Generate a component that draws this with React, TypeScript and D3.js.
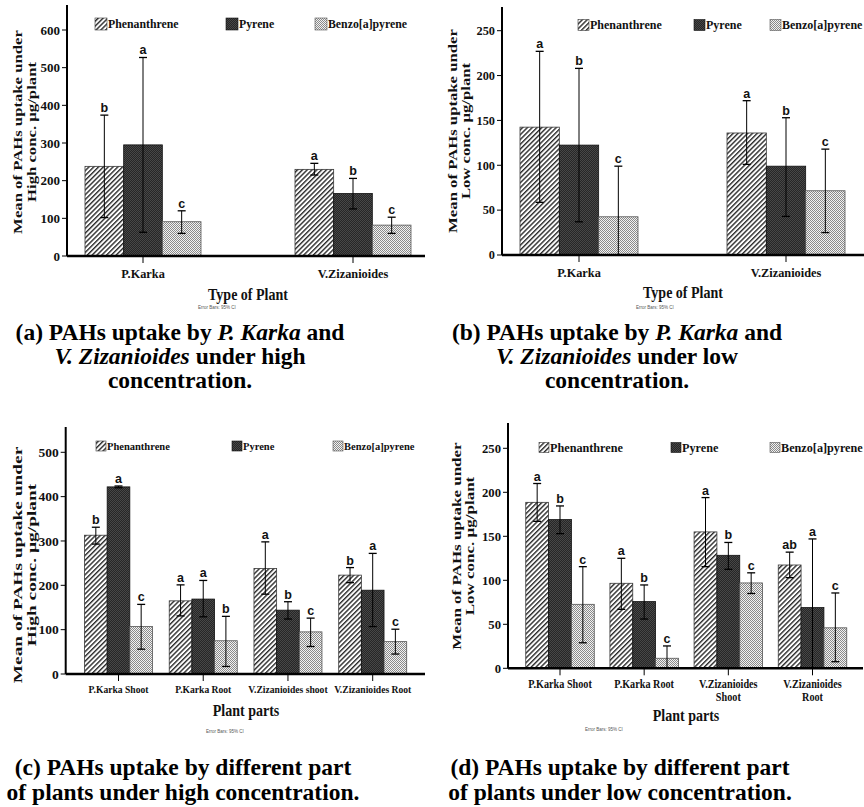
import React from "react";
import * as d3 from "d3";

const SERIES = ["Phenanthrene", "Pyrene", "Benzo[a]pyrene"];

// ---------- Panel (a): high concentration, by plant ----------
const catsA = ["P.Karka", "V.Zizanioides"];
const ticksA = [0, 100, 200, 300, 400, 500, 600];
const phenA = [238, 230];
const phenA_lo = [102, 215];
const phenA_hi = [374, 246];
const pyrA = [295, 166];
const pyrA_lo = [63, 125];
const pyrA_hi = [527, 206];
const bapA = [91, 82];
const bapA_lo = [60, 60];
const bapA_hi = [120, 103];
const lettersA = [["b", "a", "c"], ["a", "b", "c"]];

// ---------- Panel (b): low concentration, by plant ----------
const catsB = ["P.Karka", "V.Zizanioides"];
const ticksB = [0, 50, 100, 150, 200, 250];
const phenB = [142.5, 136];
const phenB_lo = [58.7, 101];
const phenB_hi = [227, 172];
const pyrB = [122.5, 99];
const pyrB_lo = [37, 43];
const pyrB_hi = [208, 153];
const bapB = [42.6, 71.6];
const bapB_lo = [-14, 25];
const bapB_hi = [99, 118];
const lettersB = [["a", "b", "c"], ["a", "b", "c"]];

// ---------- Panel (c): high concentration, by plant part ----------
const catsC = ["P.Karka Shoot", "P.Karka Root", "V.Zizanioides shoot", "V.Zizanioides Root"];
const ticksC = [0, 100, 200, 300, 400, 500];
const phenC = [313, 165, 238, 223];
const phenC_lo = [293, 131, 180, 206];
const phenC_hi = [331, 201, 298, 240];
const pyrC = [422, 169, 144, 189];
const pyrC_lo = [420, 129, 124, 107];
const pyrC_hi = [424, 211, 163, 272];
const bapC = [107, 75, 95, 73];
const bapC_lo = [56, 17, 62, 45];
const bapC_hi = [157, 130, 126, 101];
const lettersC = [["b", "a", "c"], ["a", "a", "b"], ["a", "b", "c"], ["b", "a", "c"]];

// ---------- Panel (d): low concentration, by plant part ----------
const catsD = ["P.Karka Shoot", "P.Karka Root", "V.Zizanioides\nShoot", "V.Zizanioides\nRoot"];
const ticksD = [0, 50, 100, 150, 200, 250];
const phenD = [188.6, 96.6, 155, 117.4];
const phenD_lo = [167, 67, 115.5, 103];
const phenD_hi = [210, 125, 194, 132];
const pyrD = [169, 75.8, 128.4, 69];
const pyrD_lo = [153, 56, 112.5, -9];
const pyrD_hi = [184.5, 94.7, 143, 147];
const bapD = [72.7, 11.4, 97, 46];
const bapD_lo = [29, -3, 85, 7.5];
const bapD_hi = [115.5, 25.4, 108.5, 85.6];
const lettersD = [["a", "b", "c"], ["a", "b", "c"], ["a", "b", "c"], ["ab", "a", "c"]];

const SERIF = "'Liberation Serif', 'Times New Roman', serif";
const SANS = "'Liberation Sans', Arial, sans-serif";

type Layout = {
  axisX: number; baseY: number; topTickY: number; axisTop: number; xEnd: number;
  c0: number; c1: number; groupW: number;
  legX: number[]; legY: number; legSq: number; legFont: number;
  tickFont: number;
  yLab: { x1: number; x2: number; cy: number; size: number; sx: number };
  xLabY: number; xLabLH: number; xLabFont: number; xLabSx: number;
  xTitle: { x: number; y: number; size: number; sx: number };
  eb: { x: number; y: number };
  letterFont: number;
};

const LA: Layout = {
  axisX: 67, baseY: 256, topTickY: 30, axisTop: 5, xEnd: 425,
  c0: 143, c1: 353, groupW: 116,
  legX: [95, 226, 315], legY: 24, legSq: 12, legFont: 11.8, tickFont: 13,
  yLab: { x1: 18, x2: 32, cy: 132, size: 16.7, sx: 0.76 },
  xLabY: 278, xLabLH: 12, xLabFont: 12.3, xLabSx: 1,
  xTitle: { x: 248, y: 300, size: 16.5, sx: 0.85 },
  eb: { x: 217, y: 309 }, letterFont: 12.5,
};
const LB: Layout = {
  axisX: 502, baseY: 255, topTickY: 30.7, axisTop: 7, xEnd: 864,
  c0: 579, c1: 786, groupW: 118,
  legX: [578, 694, 770], legY: 25, legSq: 11, legFont: 12, tickFont: 12.3,
  yLab: { x1: 452.7, x2: 465.3, cy: 131, size: 16.7, sx: 0.74 },
  xLabY: 277, xLabLH: 12, xLabFont: 12.3, xLabSx: 1,
  xTitle: { x: 683, y: 298, size: 16.5, sx: 0.85 },
  eb: { x: 655, y: 309 }, letterFont: 12.5,
};
const LC: Layout = {
  axisX: 65.7, baseY: 674, topTickY: 452.3, axisTop: 427, xEnd: 425,
  c0: 118.5, c1: 372.7, groupW: 68,
  legX: [96, 232, 333], legY: 446, legSq: 10, legFont: 10.5, tickFont: 13.5,
  yLab: { x1: 17.5, x2: 31.5, cy: 565, size: 19.4, sx: 0.66 },
  xLabY: 693, xLabLH: 12, xLabFont: 11.3, xLabSx: 0.85,
  xTitle: { x: 246, y: 716, size: 16.5, sx: 0.85 },
  eb: { x: 225, y: 733 }, letterFont: 12.5,
};
const LD: Layout = {
  axisX: 508, baseY: 668.3, topTickY: 448.3, axisTop: 423, xEnd: 863,
  c0: 560, c1: 812.5, groupW: 68.5,
  legX: [539, 671, 770], legY: 447.5, legSq: 10, legFont: 12.2, tickFont: 12.7,
  yLab: { x1: 457, x2: 470, cy: 546, size: 17, sx: 0.74 },
  xLabY: 688, xLabLH: 12.5, xLabFont: 12, xLabSx: 0.85,
  xTitle: { x: 686, y: 721, size: 16.5, sx: 0.85 },
  eb: { x: 604, y: 731 }, letterFont: 12.5,
};

const FILLS = ["url(#pat-phen)", "url(#pat-pyr)", "url(#pat-bap)"];
const STROKES = ["#3a3a3a", "#111", "#555"];

type PanelProps = {
  L: Layout; cats: string[]; ticks: number[];
  vals: number[][]; lows: number[][]; highs: number[][];
  letters: string[][]; yLabel: string[]; xTitle: string;
};

function Panel({ L, cats, ticks, vals, lows, highs, letters, yLabel, xTitle }: PanelProps) {
  const y = d3.scaleLinear().domain([0, ticks[ticks.length - 1]]).range([L.baseY, L.topTickY]);
  const x = d3.scalePoint<string>().domain(cats).range([L.c0, L.c1]);
  const sub = d3.scaleBand<string>().domain(SERIES).range([-L.groupW / 2, L.groupW / 2]);
  const bw = sub.bandwidth();
  const cap = 4;

  return (
    <g>
      {/* bars */}
      {cats.map((c, i) =>
        SERIES.map((s, k) => {
          const v = vals[k][i];
          const bx = (x(c) as number) + (sub(s) as number);
          return (
            <rect key={`b-${i}-${k}`} x={bx} y={y(v)} width={bw} height={L.baseY - y(v)}
              fill={FILLS[k]} stroke={STROKES[k]} strokeWidth={0.8} />
          );
        })
      )}
      {/* error bars + letters */}
      {cats.map((c, i) =>
        SERIES.map((s, k) => {
          const cx = (x(c) as number) + (sub(s) as number) + bw / 2;
          const lo = lows[k][i];
          const hi = highs[k][i];
          const yH = y(hi);
          const yL = y(Math.max(lo, 0));
          return (
            <g key={`e-${i}-${k}`} stroke="#000" strokeWidth={1}>
              <line x1={cx} x2={cx} y1={yH} y2={yL} />
              <line x1={cx - cap} x2={cx + cap} y1={yH} y2={yH} strokeWidth={1.3} />
              {lo >= 0 && <line x1={cx - cap} x2={cx + cap} y1={yL} y2={yL} strokeWidth={1.3} />}
              <text x={cx} y={yH - 3} textAnchor="middle" stroke="none" fill="#111"
                fontFamily={SANS} fontWeight="bold" fontSize={L.letterFont}>{letters[i][k]}</text>
            </g>
          );
        })
      )}
      {/* y axis */}
      <line x1={L.axisX} x2={L.axisX} y1={L.axisTop} y2={L.baseY} stroke="#000" strokeWidth={2} />
      {ticks.map((t) => (
        <g key={`t-${t}`}>
          <line x1={L.axisX - 5} x2={L.axisX} y1={y(t)} y2={y(t)} stroke="#000" strokeWidth={1} />
          <text x={L.axisX - 7} y={y(t)} dy="0.35em" textAnchor="end" fontFamily={SERIF}
            fontWeight="bold" fontSize={L.tickFont} fill="#111">{t}</text>
        </g>
      ))}
      {/* x axis */}
      <line x1={L.axisX} x2={L.xEnd} y1={L.baseY} y2={L.baseY} stroke="#000" strokeWidth={2.5} />
      {cats.map((c) => (
        <g key={`x-${c}`}>
          <line x1={x(c)} x2={x(c)} y1={L.baseY} y2={L.baseY + 7} stroke="#000" strokeWidth={1} />
          {c.split("\n").map((ln, j) => (
            <text key={j} transform={`translate(${x(c)},${L.xLabY + j * L.xLabLH}) scale(${L.xLabSx},1)`}
              textAnchor="middle" fontFamily={SERIF} fontWeight="bold" fontSize={L.xLabFont} fill="#111">{ln}</text>
          ))}
        </g>
      ))}
      {/* legend */}
      {SERIES.map((s, k) => (
        <g key={`l-${s}`}>
          <rect x={L.legX[k]} y={L.legY - L.legSq / 2} width={L.legSq} height={L.legSq}
            fill={FILLS[k]} stroke={STROKES[k]} strokeWidth={0.6} />
          <text x={L.legX[k] + L.legSq + 1} y={L.legY + L.legFont * 0.34} fontFamily={SERIF}
            fontWeight="bold" fontSize={L.legFont} fill="#111">{s}</text>
        </g>
      ))}
      {/* y label */}
      {yLabel.map((ln, j) => (
        <text key={`yl-${j}`}
          transform={`translate(${j === 0 ? L.yLab.x1 : L.yLab.x2},${L.yLab.cy}) scale(${L.yLab.sx},1) rotate(-90)`}
          dy="0.35em" textAnchor="middle" fontFamily={SERIF} fontWeight="bold"
          fontSize={L.yLab.size} fill="#111">{ln}</text>
      ))}
      {/* x title */}
      <text transform={`translate(${L.xTitle.x},${L.xTitle.y}) scale(${L.xTitle.sx},1)`}
        textAnchor="middle" fontFamily={SERIF} fontWeight="bold" fontSize={L.xTitle.size} fill="#111">{xTitle}</text>
      <text x={L.eb.x} y={L.eb.y} textAnchor="middle" fontFamily={SANS} fontSize={4.5} fill="#555">Error Bars: 95% CI</text>
    </g>
  );
}

function Caption({ cx, y, lines }: { cx: number; y: number[]; lines: [string, boolean][][] }) {
  return (
    <g>
      {lines.map((parts, j) => (
        <text key={j} x={cx} y={y[j]} textAnchor="middle" fontFamily={SERIF} fontWeight="bold"
          fontSize={23.5} fill="#000">
          {parts.map(([t, it], k) => (
            <tspan key={k} fontStyle={it ? "italic" : "normal"}>{t}</tspan>
          ))}
        </text>
      ))}
    </g>
  );
}

export default function App() {
  return (
    <svg width={864} height={807} viewBox="0 0 864 807"
      style={{ position: "absolute", left: 0, top: 0, background: "#fff" }}>
      <defs>
        <pattern id="pat-phen" patternUnits="userSpaceOnUse" width={3.4} height={10} patternTransform="rotate(45)">
          <rect width={3.4} height={10} fill="#fff" />
          <rect width={1.4} height={10} fill="#2a2a2a" />
        </pattern>
        <pattern id="pat-pyr" patternUnits="userSpaceOnUse" width={2} height={2}>
          <rect width={2} height={2} fill="#262626" />
          <rect width={1} height={1} fill="#474747" />
          <rect x={1} y={1} width={1} height={1} fill="#474747" />
        </pattern>
        <pattern id="pat-bap" patternUnits="userSpaceOnUse" width={2} height={2}>
          <rect width={2} height={2} fill="#f2f2f2" />
          <rect width={1} height={1} fill="#8a8a8a" />
          <rect x={1} y={1} width={1} height={1} fill="#8a8a8a" />
        </pattern>
      </defs>

      <Panel L={LA} cats={catsA} ticks={ticksA}
        vals={[phenA, pyrA, bapA]} lows={[phenA_lo, pyrA_lo, bapA_lo]} highs={[phenA_hi, pyrA_hi, bapA_hi]}
        letters={lettersA} yLabel={["Mean of PAHs uptake under", "High conc. µg/plant"]} xTitle="Type of Plant" />
      <Panel L={LB} cats={catsB} ticks={ticksB}
        vals={[phenB, pyrB, bapB]} lows={[phenB_lo, pyrB_lo, bapB_lo]} highs={[phenB_hi, pyrB_hi, bapB_hi]}
        letters={lettersB} yLabel={["Mean of PAHs uptake under", "Low conc. µg/plant"]} xTitle="Type of Plant" />
      <Panel L={LC} cats={catsC} ticks={ticksC}
        vals={[phenC, pyrC, bapC]} lows={[phenC_lo, pyrC_lo, bapC_lo]} highs={[phenC_hi, pyrC_hi, bapC_hi]}
        letters={lettersC} yLabel={["Mean of PAHs uptake under", "High conc. µg/plant"]} xTitle="Plant parts" />
      <Panel L={LD} cats={catsD} ticks={ticksD}
        vals={[phenD, pyrD, bapD]} lows={[phenD_lo, pyrD_lo, bapD_lo]} highs={[phenD_hi, pyrD_hi, bapD_hi]}
        letters={lettersD} yLabel={["Mean of PAHs uptake under", "Low conc. µg/plant"]} xTitle="Plant parts" />

      <Caption cx={180} y={[340, 364, 388]} lines={[
        [["(a) PAHs uptake by ", false], ["P. Karka", true], [" and", false]],
        [["V. Zizanioides", true], [" under high", false]],
        [["concentration.", false]],
      ]} />
      <Caption cx={617} y={[340, 364, 388]} lines={[
        [["(b) PAHs uptake by ", false], ["P. Karka", true], [" and", false]],
        [["V. Zizanioides", true], [" under low", false]],
        [["concentration.", false]],
      ]} />
      <Caption cx={183} y={[775, 800]} lines={[
        [["(c) PAHs uptake by different part", false]],
        [["of plants under high concentration.", false]],
      ]} />
      <Caption cx={620} y={[775, 800]} lines={[
        [["(d) PAHs uptake by different part", false]],
        [["of plants under low concentration.", false]],
      ]} />
    </svg>
  );
}
